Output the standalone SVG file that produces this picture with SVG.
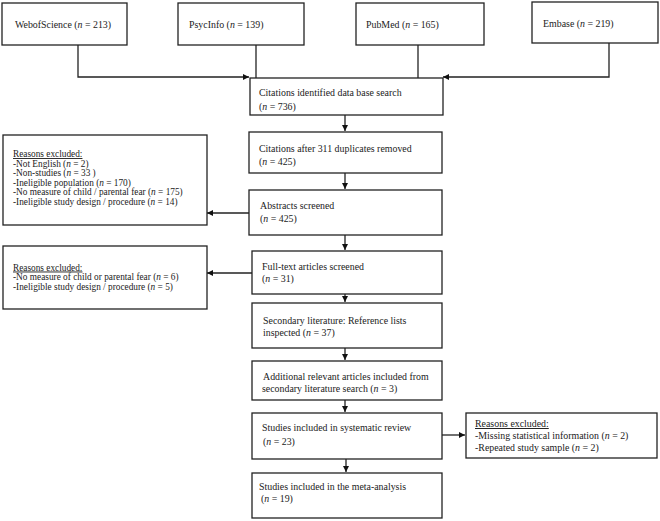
<svg xmlns="http://www.w3.org/2000/svg" width="660" height="521" viewBox="0 0 660 521">
<defs>
<marker id="ah" viewBox="0 0 10 10" refX="10" refY="5" markerWidth="6" markerHeight="6" markerUnits="userSpaceOnUse" orient="auto">
<path d="M0,0 L10,5 L0,10 z" fill="#111"/>
</marker>
</defs>
<style>
.box{fill:#fff;stroke:#222;stroke-width:1.3}
.t{font-family:"Liberation Serif","Times New Roman",serif;font-size:9.9px;fill:#222}
.s{font-size:9.3px}
.u{text-decoration:underline}
.c{fill:none;stroke:#222;stroke-width:1.3}
</style>
<rect width="660" height="521" fill="#fff"/>
<g id="connectors">
<path class="c" d="M78,45 V77 H249" marker-end="url(#ah)"/>
<path class="c" d="M256,45 V78"/>
<path class="c" d="M418,45 V78"/>
<path class="c" d="M609,43 V77 H443" marker-end="url(#ah)"/>
<path class="c" d="M345,115 V131" marker-end="url(#ah)"/>
<path class="c" d="M345,173 V189" marker-end="url(#ah)"/>
<path class="c" d="M249,213 H207" marker-end="url(#ah)"/>
<path class="c" d="M345,235 V250" marker-end="url(#ah)"/>
<path class="c" d="M252,273 H207" marker-end="url(#ah)"/>
<path class="c" d="M345,294 V302" marker-end="url(#ah)"/>
<path class="c" d="M345,348 V360" marker-end="url(#ah)"/>
<path class="c" d="M345,400 V412" marker-end="url(#ah)"/>
<path class="c" d="M442,435 H465" marker-end="url(#ah)"/>
<path class="c" d="M346,459 V472" marker-end="url(#ah)"/>
</g>
<g id="wos"><rect class="box" x="2" y="3" width="125" height="42"/><text class="t" x="15" y="28">WebofScience (<tspan font-style="italic">n</tspan> = 213)</text></g>
<g id="psycinfo"><rect class="box" x="178" y="3" width="126" height="42"/><text class="t" x="189" y="28">PsycInfo (<tspan font-style="italic">n</tspan> = 139)</text></g>
<g id="pubmed"><rect class="box" x="356" y="3" width="128" height="42"/><text class="t" x="366" y="28">PubMed (<tspan font-style="italic">n</tspan> = 165)</text></g>
<g id="embase"><rect class="box" x="532" y="2" width="126" height="41"/><text class="t" x="543" y="27">Embase (<tspan font-style="italic">n</tspan> = 219)</text></g>
<g id="identified"><rect class="box" x="250" y="78" width="193" height="37"/><text class="t" x="259" y="96">Citations identified data base search</text><text class="t" x="259" y="110">(<tspan font-style="italic">n</tspan> = 736)</text></g>
<g id="duplicates"><rect class="box" x="249" y="132" width="193" height="41"/><text class="t" x="259" y="152">Citations after 311 duplicates removed</text><text class="t" x="259" y="165">(<tspan font-style="italic">n</tspan> = 425)</text></g>
<g id="abstracts"><rect class="box" x="249" y="190" width="193" height="45"/><text class="t" x="260" y="209">Abstracts screened</text><text class="t" x="260" y="222">(<tspan font-style="italic">n</tspan> = 425)</text></g>
<g id="excl1"><rect class="box" x="3" y="135" width="204" height="90"/>
<text class="t s u" x="13" y="157">Reasons excluded:</text>
<text class="t s" x="13" y="166.6">-Not English (<tspan font-style="italic">n</tspan> = 2)</text>
<text class="t s" x="13" y="176.2">-Non-studies (<tspan font-style="italic">n</tspan>  = 33 )</text>
<text class="t s" x="13" y="185.8">-Ineligible population (<tspan font-style="italic">n</tspan> = 170)</text>
<text class="t s" x="13" y="195.4">-No measure of child / parental fear (<tspan font-style="italic">n</tspan> = 175)</text>
<text class="t s" x="13" y="205">-Ineligible study design / procedure (<tspan font-style="italic">n</tspan> = 14)</text>
</g>
<g id="fulltext"><rect class="box" x="252" y="251" width="190" height="43"/><text class="t" x="262" y="270">Full-text articles screened</text><text class="t" x="262" y="282">(<tspan font-style="italic">n</tspan>  = 31)</text></g>
<g id="excl2"><rect class="box" x="3" y="246" width="204" height="63"/>
<text class="t s u" x="13" y="270.5">Reasons excluded:</text>
<text class="t s" x="13" y="280.3">-No measure of child or parental fear (<tspan font-style="italic">n</tspan> = 6)</text>
<text class="t s" x="13" y="290.1">-Ineligible study design / procedure (<tspan font-style="italic">n</tspan> = 5)</text>
</g>
<g id="secondary"><rect class="box" x="252" y="303" width="190" height="45"/><text class="t" x="263" y="324">Secondary literature: Reference lists</text><text class="t" x="263" y="336">inspected (<tspan font-style="italic">n</tspan>  = 37)</text></g>
<g id="additional"><rect class="box" x="252" y="361" width="190" height="39"/><text class="t" x="263" y="380">Additional relevant articles included from</text><text class="t" x="262" y="392">secondary literature search (<tspan font-style="italic">n</tspan> = 3)</text></g>
<g id="systematic"><rect class="box" x="252" y="413" width="190" height="46"/><text class="t" x="262" y="431">Studies included in systematic review</text><text class="t" x="263" y="445">(<tspan font-style="italic">n</tspan> = 23)</text></g>
<g id="excl3"><rect class="box" x="466" y="413" width="191" height="45"/>
<text class="t u" x="475" y="427">Reasons excluded:</text>
<text class="t" x="475" y="439">-Missing statistical information (<tspan font-style="italic">n</tspan> = 2)</text>
<text class="t" x="475" y="451">-Repeated study sample (<tspan font-style="italic">n</tspan> = 2)</text>
</g>
<g id="meta"><rect class="box" x="252" y="473" width="190" height="45"/><text class="t" x="259" y="490">Studies included in the meta-analysis</text><text class="t" x="261" y="502">(<tspan font-style="italic">n</tspan> = 19)</text></g>
</svg>
